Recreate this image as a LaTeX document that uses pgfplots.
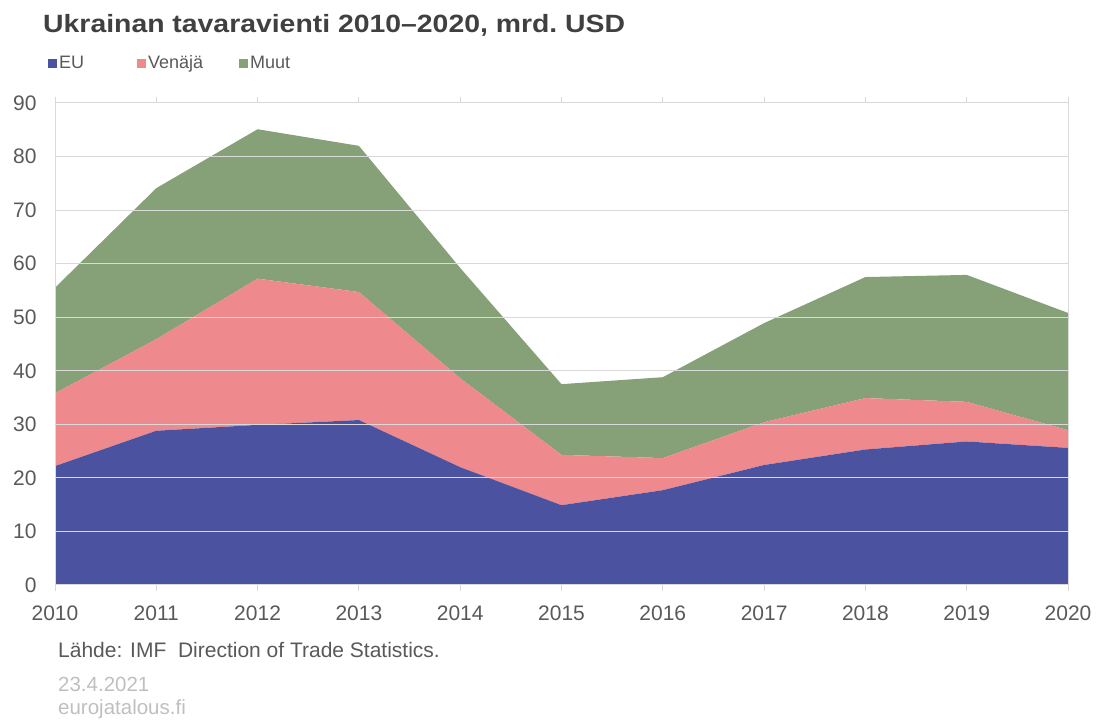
\documentclass[border=0pt]{standalone}
\usepackage{fontspec}
\setmainfont{Liberation Sans}
\usepackage{pgfplots}
\pgfplotsset{compat=1.18}
\definecolor{eu}{RGB}{75,82,160}
\definecolor{ru}{RGB}{238,137,142}
\definecolor{mu}{RGB}{134,160,120}
\definecolor{tick}{RGB}{89,89,89}
\definecolor{ttl}{RGB}{64,64,64}
\definecolor{grd}{RGB}{217,217,217}
\definecolor{lt}{RGB}{191,191,191}
\begin{document}
\begin{tikzpicture}
\path (0pt,0pt) rectangle (1099pt,722pt);
\begin{axis}[
  at={(55pt,137pt)}, anchor=south west,
  width=1013pt, height=482pt, scale only axis,
  xmin=2010, xmax=2020, ymin=0, ymax=90,
  xtick={2010,2011,...,2020}, ytick={0,10,...,90},
  /pgf/number format/1000 sep={},
  /pgf/number format/assume math mode=true,
  ticklabel style={font=\fontsize{21}{24}\selectfont, text=tick},
  xticklabel style={yshift=-11pt},
  yticklabel style={xshift=-9pt},
  ymajorgrids, grid style={draw=grd, line width=1pt},
  axis line style={draw=grd, line width=1pt},
  ytick style={draw=none},
  xtick style={draw=grd, line width=1pt},
  tick align=outside, major tick length=6pt,
  stack plots=y, area style,
  legend columns=3,
  legend style={at={(rel axis cs:0,1)}, anchor=west, yshift=40pt, xshift=-7pt,
    draw=none, fill=none, inner sep=0pt, font=\fontsize{18}{22}\selectfont,
    text=tick, /tikz/every even column/.append style={column sep=0pt}},
  legend image code/.code={\fill[#1, draw=none] (0pt,-5pt) rectangle (9pt,4pt);},
]
\addplot[fill=eu, draw=none] coordinates {
(2010,22.2) (2011,28.8) (2012,29.9) (2013,30.8) (2014,22.0) (2015,14.9)
(2016,17.7) (2017,22.4) (2018,25.3) (2019,26.8) (2020,25.6)} \closedcycle;
\addplot[fill=ru, draw=none] coordinates {
(2010,13.6) (2011,17.1) (2012,27.3) (2013,23.9) (2014,16.6) (2015,9.4)
(2016,6.0) (2017,8.0) (2018,9.6) (2019,7.4) (2020,3.3)} \closedcycle;
\addplot[fill=mu, draw=none] coordinates {
(2010,19.7) (2011,28.2) (2012,27.9) (2013,27.3) (2014,20.6) (2015,13.2)
(2016,15.1) (2017,18.5) (2018,22.6) (2019,23.7) (2020,21.9)} \closedcycle;
\legend{\makebox[76pt][l]{EU}, \makebox[89pt][l]{Venäjä}, Muut}
\end{axis}
\node[anchor=base west, font=\bfseries\fontsize{25}{30}\selectfont, text=ttl, inner sep=0pt] at (43pt,689pt) {\scalebox{1.135}[1]{Ukrainan tavaravienti 2010–2020, mrd.\ USD}};
\node[anchor=base west, font=\fontsize{21}{24}\selectfont, text=tick, inner sep=0pt] at (58pt,64pt) {Lähde: IMF\ \ Direction of Trade Statistics.};
\node[anchor=base west, font=\fontsize{20.5}{24}\selectfont, text=lt, inner sep=0pt] at (58pt,30pt) {23.4.2021};
\node[anchor=base west, font=\fontsize{20.5}{24}\selectfont, text=lt, inner sep=0pt] at (58pt,8pt) {eurojatalous.fi};
\end{tikzpicture}
\end{document}
